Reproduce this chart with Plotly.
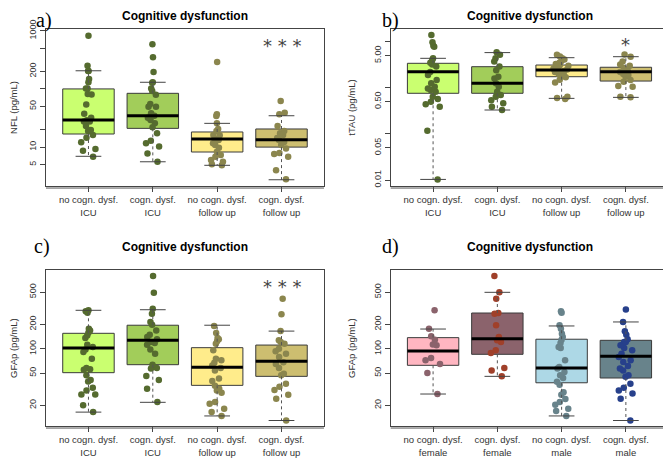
import plotly.graph_objects as go
from plotly.subplots import make_subplots

# categories
cats = [1, 2, 3, 4]
labels_cog = ["no cogn. dysf.<br>ICU", "cogn. dysf.<br>ICU",
              "no cogn. dysf.<br>follow up", "cogn. dysf.<br>follow up"]
labels_sex = ["no cogn. dysf.<br>female", "cogn. dysf.<br>female",
              "no cogn. dysf.<br>male", "cogn. dysf.<br>male"]

# a) NFL
nfl_no_icu = [820, 250, 204, 204, 148, 130, 102, 102, 82, 80, 54, 37.5, 32, 29, 27.5,
              27.5, 23, 19.7, 19, 16.2, 14.5, 12.1, 9.3, 8.7, 6.8]
nfl_cog_icu = [584, 349, 195, 130, 127, 102, 92, 79, 55, 49.5, 49.5, 38, 34.6, 32, 29.2,
               25.8, 21.9, 17.3, 12.9, 11.6, 10.2, 7.8, 5.6]
nfl_no_fu = [290, 36.7, 34.2, 25.6, 20.5, 19, 16.2, 16, 13.3, 13.8, 11.6, 10.9, 9.8, 8.3,
             7.3, 6.8, 6.0, 5.6, 5.1, 4.9]
nfl_cog_fu = [62, 39, 36.7, 23, 19, 17.3, 14.4, 16.2, 13.3, 12.2, 10.9, 9.5, 7.9, 7.6,
              6.8, 4.0, 2.8]
nfl_q1 = [16.8, 21, 8.24, 10]
nfl_med = [29.2, 34.6, 13.8, 13.4]
nfl_q3 = [100, 84, 18.2, 20.5]
nfl_lo = [6.95, 5.6, 4.87, 2.75]
nfl_hi = [205, 130, 25.6, 34.6]

# b) tTAU
tau_no_icu = [14, 9.7, 8.2, 7.8, 4.4, 4.0, 3.5, 3.2, 2.9, 2.2, 1.9, 1.48, 1.25, 1.06,
              0.97, 0.9, 0.82, 0.64, 0.57, 0.5, 0.44, 0.39, 0.117, 0.0103]
tau_cog_icu = [5.9, 5.2, 4.4, 3.7, 2.9, 2.4, 1.74, 1.6, 1.25, 1.06, 0.82, 0.7, 0.64,
               0.54, 0.46, 0.39, 0.33]
tau_no_fu = [5.2, 4.8, 4.4, 4.1, 3.8, 3.5, 3.3, 3.1, 3.0, 2.8, 2.6, 2.5, 2.4, 2.3, 2.2,
             2.0, 1.9, 1.8, 1.7, 1.5, 1.3, 0.64, 0.6, 0.57]
tau_cog_fu = [5.3, 4.7, 3.7, 3.2, 3.0, 2.7, 2.4, 2.2, 2.0, 1.9, 1.74, 1.48, 1.36, 1.1,
              1.06, 0.64, 0.62]
tau_q1 = [0.76, 0.76, 1.74, 1.4]
tau_med = [2.23, 1.25, 2.43, 2.23]
tau_q3 = [3.4, 2.87, 3.12, 2.79]
tau_lo = [0.0103, 0.33, 0.59, 0.62]
tau_hi = [4.36, 5.8, 4.5, 4.73]

# c) GFAp
gfap_no_icu = [298, 290, 278, 177, 168, 158, 146, 136, 112, 105, 98, 91, 75, 58, 56, 55,
               47, 41, 39.5, 33, 30.6, 27.3, 27.3, 20, 16.5]
gfap_cog_icu = [790, 491, 312, 270, 214, 198, 168, 149, 140, 131, 121, 118, 112, 98, 87,
                63.5, 58, 57, 46, 41, 32, 22]
gfap_no_fu = [191, 156, 136, 131, 124, 115, 96, 75, 72, 67, 62, 58, 54, 43, 40, 35, 32,
              30.6, 28.6, 22, 21, 18.2, 16.5, 14.8]
gfap_cog_fu = [414, 266, 165, 121, 127, 115, 100, 93, 87, 79, 68, 65, 58, 49, 47, 37, 34,
               31, 27, 24.2, 13]
gfap_q1 = [50.6, 63.5, 35.3, 45.6]
gfap_med = [102, 127, 59, 70]
gfap_q3 = [155, 195, 103, 111]
gfap_lo = [16.5, 21.8, 14.8, 13]
gfap_hi = [298, 303, 195, 165]

# d) GFAp by sex
sex_no_f = [298, 177, 143, 129, 113, 110, 77, 72, 65, 50, 27.6]
sex_cog_f = [790, 497, 414, 270, 276, 195, 140, 127, 121, 96, 88.5, 58, 54, 45.6]
sex_no_m = [290, 278, 195, 177, 153, 140, 129, 118, 105, 102, 72, 59.5, 57, 51.5, 47,
            43.5, 39, 36, 29, 27, 24, 22, 20.3, 18.2, 17, 14.8]
sex_cog_m = [306, 214, 164, 149, 131, 121, 121, 110, 102, 96, 87, 79, 72, 68.5, 61, 57,
             54, 47, 45, 37, 33, 30.6, 28, 24.2, 13]
sex_q1 = [62.4, 85.3, 38, 43.5]
sex_med = [93.7, 133, 57.7, 80.5]
sex_q3 = [137, 276, 131, 127]
sex_lo = [27.6, 45.6, 14.8, 13]
sex_hi = [175, 497, 191, 214]

fill_cog = ["#CAFF70", "#A2CD5A", "#FFEC8B", "#CDBE70"]
dot_cog = ["#556B2F", "#556B2F", "#8B864E", "#8B864E"]
fill_sex = ["#FFB6C1", "#8B636C", "#ADD8E6", "#68838B"]
dot_sex = ["#8B636C", "#A0402A", "#68838B", "#27408B"]

fig = make_subplots(rows=2, cols=2)


def add_panel(row, col, groups, q1, med, q3, lo, hi, fills, dots):
    # box bodies
    for i, c in enumerate(cats):
        fig.add_trace(go.Box(
            x=[c], q1=[q1[i]], median=[med[i]], q3=[q3[i]],
            lowerfence=[q1[i]], upperfence=[q3[i]],
            width=0.8, whiskerwidth=0, boxpoints=False,
            fillcolor=fills[i], line=dict(color="#3a3a3a", width=1),
            showlegend=False, hoverinfo="skip"), row=row, col=col)
    # jittered points
    for i, c in enumerate(cats):
        fig.add_trace(go.Box(
            x=[c] * len(groups[i]), y=groups[i],
            width=0.8, boxpoints="all", jitter=0.35, pointpos=0,
            fillcolor="rgba(0,0,0,0)", line=dict(color="rgba(0,0,0,0)", width=0),
            marker=dict(color=dots[i], size=6.5),
            showlegend=False, hoveron="points"), row=row, col=col)
    # dashed whisker stems, caps and thick medians
    sx, sy, cx, cy, mx, my = [], [], [], [], [], []
    for i, c in enumerate(cats):
        sx += [c, c, None, c, c, None]
        sy += [q3[i], hi[i], None, q1[i], lo[i], None]
        cx += [c - 0.2, c + 0.2, None, c - 0.2, c + 0.2, None]
        cy += [hi[i], hi[i], None, lo[i], lo[i], None]
        mx += [c - 0.4, c + 0.4, None]
        my += [med[i], med[i], None]
    fig.add_trace(go.Scatter(x=sx, y=sy, mode="lines",
                             line=dict(color="#555555", width=1, dash="3px,3px"),
                             showlegend=False, hoverinfo="skip"), row=row, col=col)
    fig.add_trace(go.Scatter(x=cx, y=cy, mode="lines",
                             line=dict(color="#444444", width=1),
                             showlegend=False, hoverinfo="skip"), row=row, col=col)
    fig.add_trace(go.Scatter(x=mx, y=my, mode="lines",
                             line=dict(color="black", width=3),
                             showlegend=False, hoverinfo="skip"), row=row, col=col)


add_panel(1, 1, [nfl_no_icu, nfl_cog_icu, nfl_no_fu, nfl_cog_fu],
          nfl_q1, nfl_med, nfl_q3, nfl_lo, nfl_hi, fill_cog, dot_cog)
add_panel(1, 2, [tau_no_icu, tau_cog_icu, tau_no_fu, tau_cog_fu],
          tau_q1, tau_med, tau_q3, tau_lo, tau_hi, fill_cog, dot_cog)
add_panel(2, 1, [gfap_no_icu, gfap_cog_icu, gfap_no_fu, gfap_cog_fu],
          gfap_q1, gfap_med, gfap_q3, gfap_lo, gfap_hi, fill_cog, dot_cog)
add_panel(2, 2, [sex_no_f, sex_cog_f, sex_no_m, sex_cog_m],
          sex_q1, sex_med, sex_q3, sex_lo, sex_hi, fill_sex, dot_sex)

# page body has an 8px margin, so the figure is 8px smaller than the window
font = "Liberation Sans, Arial, sans-serif"
fig.update_layout(
    width=663, height=455,
    margin=dict(l=0, r=0, t=0, b=0),
    paper_bgcolor="white", plot_bgcolor="white",
    boxmode="overlay",
    font=dict(family=font, color="#333333"),
)

# axes
xdom = {1: [0.0573, 0.4766], 2: [0.5772, 0.9959]}
ydom = {1: [0.6088, 0.9538], 2: [0.0813, 0.4235]}
panels = [
    (1, 1, labels_cog, [0.332, 3.029], [5, 10, 20, 50, 100, 200, 500, 1000],
     ["5", "10", "", "50", "", "200", "", "1000"], "NFL (pg/mL)"),
    (1, 2, labels_cog, [-2.13, 1.275], [0.01, 0.05, 0.1, 0.5, 1, 5, 10],
     ["0.01", "0.05", "", "0.50", "", "5.00", ""], "tTAU (pg/mL)"),
    (2, 1, labels_cog, [1.046, 2.968], [20, 50, 100, 200, 500],
     ["20", "50", "100", "200", "500"], "GFAp (pg/mL)"),
    (2, 2, labels_sex, [1.046, 2.968], [20, 50, 100, 200, 500],
     ["20", "50", "100", "200", "500"], "GFAp (pg/mL)"),
]
for row, col, xl, yr, tv, tt, ytitle in panels:
    fig.update_xaxes(
        domain=xdom[col], range=[0.34, 4.66], tickvals=cats, ticktext=xl,
        ticks="outside", ticklen=5, tickcolor="#444444",
        showline=True, mirror=True, linecolor="#444444", linewidth=1,
        showgrid=False, zeroline=False, tickfont=dict(size=9.5),
        ticklabelstandoff=0, automargin=False,
        row=row, col=col)
    fig.update_yaxes(
        domain=ydom[row], type="log", range=yr, tickvals=tv, ticktext=tt,
        tickangle=-90, ticks="outside", ticklen=5, tickcolor="#444444",
        showline=True, mirror=True, linecolor="#444444", linewidth=1,
        showgrid=False, zeroline=False, tickfont=dict(size=9),
        title=dict(text=ytitle, font=dict(size=9.5)), automargin=False,
        row=row, col=col)

# detached x axis lines
for k in ["", "2", "3", "4"]:
    fig.add_shape(type="line", xref="x%s domain" % k, yref="y%s domain" % k,
                  x0=0, x1=1, y0=-0.013, y1=-0.013,
                  line=dict(color="#555555", width=1))

# titles and panel letters (top row pinned to the top edge so nothing is clipped)
for xc, yc, ya in [(0.267, 1.0, "top"), (0.7873, 1.0, "top"),
                   (0.267, 0.4747, "middle"), (0.7873, 0.4747, "middle")]:
    fig.add_annotation(x=xc, y=yc, xref="paper", yref="paper",
                       text="<b>Cognitive dysfunction</b>", showarrow=False,
                       font=dict(size=12, color="black"), borderpad=0,
                       xanchor="center", yanchor=ya)
for txt, xc, yc, ya in [("a)", 0.0543, 1.0, "top"), ("b)", 0.5762, 1.0, "top"),
                        ("c)", 0.0513, 0.4769, "middle"), ("d)", 0.5762, 0.4769, "middle")]:
    fig.add_annotation(x=xc, y=yc, xref="paper", yref="paper", text=txt,
                       showarrow=False, xanchor="center", yanchor=ya, borderpad=0,
                       font=dict(size=20, color="black",
                                 family="Liberation Serif, Times New Roman, serif"))

# significance marks
for k, txt, yc in [("", "* * *", 0.895), ("2", "*", 0.90), ("3", "* * *", 0.895)]:
    fig.add_annotation(x=4, y=yc, xref="x%s" % k, yref="y%s domain" % k, text=txt,
                       showarrow=False, xanchor="center", yanchor="middle",
                       font=dict(size=18, color="#444444", family="DejaVu Sans"))

fig.write_html("out.html")
